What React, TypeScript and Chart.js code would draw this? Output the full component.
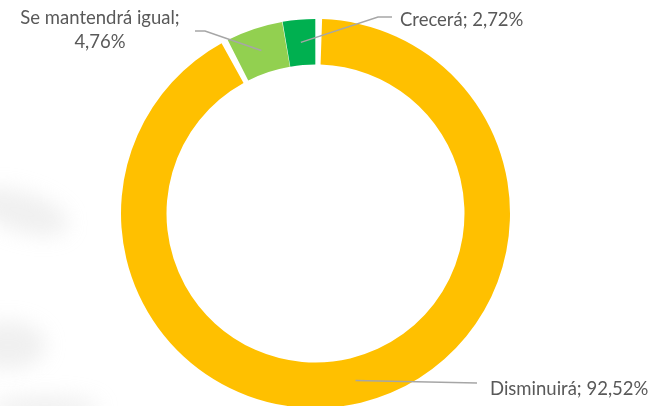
import React, { useEffect, useRef } from "react";
import { Chart, registerables } from "chart.js";

Chart.register(...registerables);

const categories = ["Disminuirá", "Se mantendrá igual", "Crecerá"];
const values = [92.52, 4.76, 2.72];
const valueLabels = ["92,52%", "4,76%", "2,72%"];
const colors = ["#FFC000", "#92D050", "#00B050"];

const FONT = "Lato, 'Open Sans', sans-serif";
const TEXT_COLOR = "#595959";
const LINE_COLOR = "#A6A6A6";

// label layout (anchor offsets only)
const labelLayout = [
  { elbow: [477, 383], end: [477, 383], text: [490, 395], align: "left" },
  { elbow: [205, 31], end: [195, 31], text: [100, 23.5], align: "center" },
  { elbow: [378, 17], end: [392, 17], text: [400, 26], align: "left" },
];

const backdropPlugin = {
  id: "backdrop",
  beforeDraw(chart: any) {
    const ctx = chart.ctx;
    ctx.save();
    ctx.filter = "blur(10px)";
    ctx.fillStyle = "rgba(200,200,200,0.28)";
    ctx.beginPath();
    ctx.ellipse(22, 212, 48, 20, 0.3, 0, Math.PI * 2);
    ctx.fill();
    ctx.beginPath();
    ctx.ellipse(8, 345, 38, 24, 0, 0, Math.PI * 2);
    ctx.fill();
    ctx.beginPath();
    ctx.ellipse(45, 408, 55, 12, 0, 0, Math.PI * 2);
    ctx.fill();
    ctx.restore();
  },
};

const leaderPlugin = {
  id: "leaders",
  afterDatasetsDraw(chart: any) {
    const ctx = chart.ctx;
    const meta = chart.getDatasetMeta(0);
    ctx.save();
    meta.data.forEach((arc: any, i: number) => {
      const lay = labelLayout[i];
      const p = arc.tooltipPosition();
      ctx.strokeStyle = LINE_COLOR;
      ctx.lineWidth = 1.5;
      ctx.beginPath();
      ctx.moveTo(p.x, p.y);
      ctx.lineTo(lay.elbow[0], lay.elbow[1]);
      ctx.lineTo(lay.end[0], lay.end[1]);
      ctx.stroke();
      ctx.fillStyle = TEXT_COLOR;
      ctx.font = `18.5px ${FONT}`;
      ctx.textAlign = lay.align;
      ctx.textBaseline = "alphabetic";
      const lines = i === 1 ? [categories[i] + ";", valueLabels[i]] : [categories[i] + "; " + valueLabels[i]];
      lines.forEach((t, k) => {
        ctx.fillText(t, lay.text[0], lay.text[1] + k * 24.5);
      });
    });
    ctx.restore();
  },
};

export default function App() {
  const ref = useRef<HTMLCanvasElement>(null);
  useEffect(() => {
    if (!ref.current) return;
    const chart = new Chart(ref.current, {
      type: "doughnut",
      data: {
        labels: categories,
        datasets: [
          {
            data: values,
            backgroundColor: colors,
            borderWidth: 0,
            spacing: 4,
          },
        ],
      },
      options: {
        animation: false,
        responsive: true,
        maintainAspectRatio: false,
        radius: 192.5,
        cutout: "76.36%",
        rotation: 0,
        layout: { padding: { top: 21, right: 23, left: 0, bottom: 0 } },
        plugins: {
          legend: { display: false },
          tooltip: { enabled: false },
        },
      } as any,
      plugins: [backdropPlugin, leaderPlugin],
    });
    return () => chart.destroy();
  }, []);
  return (
    <div style={{ position: "fixed", left: 0, top: 0, width: 654, height: 406, background: "#fff" }}>
      <canvas ref={ref} />
    </div>
  );
}
